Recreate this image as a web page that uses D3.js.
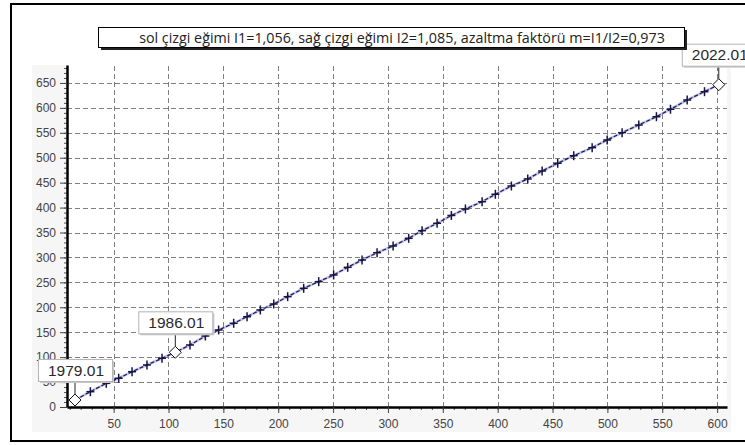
<!DOCTYPE html>
<html>
<head>
<meta charset="utf-8">
<script src="https://cdn.jsdelivr.net/npm/d3@7"></script>
<style>
body { margin: 0; background: #fff; }
svg { display: block; }
</style>
</head>
<body>
<svg id="chart" width="745" height="445"></svg>
<script>
// ---------- DATA ----------

const years = [1979, 1980, 1981, 1982, 1983, 1984, 1985, 1986, 1987, 1988,
  1989, 1990, 1991, 1992, 1993, 1994, 1995, 1996, 1997, 1998,
  1999, 2000, 2001, 2002, 2003, 2004, 2005, 2006, 2007, 2008,
  2009, 2010, 2011, 2012, 2013, 2014, 2015, 2016, 2017, 2018,
  2019, 2020, 2021, 2022];

// cumulative values (x = station sum, y = test station sum)
const cumX = [14.8, 28.8, 43.3, 54.6, 66.8, 80.4, 94.1, 106.2, 119.6, 133.6,
  145.7, 159.4, 171.6, 183.7, 195.9, 208.6, 223.2, 236.9, 250.5, 263.3,
  276.4, 290.1, 304.7, 318.9, 331.1, 344.8, 357.8, 370.6, 385.8, 397.9,
  412.5, 427.4, 440.5, 454.7, 469.3, 486.1, 499.8, 513.4, 528.6, 544.7,
  557.5, 572.7, 588.5, 601.5];

const cumY = [14.0, 30.7, 47.5, 57.6, 70.8, 84.3, 97.7, 109.7, 124.4, 142.4,
  154.5, 167.9, 181.1, 194.6, 206.6, 221.3, 238.1, 251.4, 264.8, 280.2,
  294.9, 309.5, 323.0, 338.4, 353.7, 368.5, 384.2, 397.2, 411.8, 426.7,
  443.3, 457.4, 473.4, 488.9, 504.1, 520.2, 535.6, 550.3, 565.7, 582.3,
  597.2, 615.8, 632.5, 646.5];

const xTicks = [50, 100, 150, 200, 250, 300, 350, 400, 450, 500, 550, 600];
const yTicks = [0, 50, 100, 150, 200, 250, 300, 350, 400, 450, 500, 550, 600, 650];

const markedYears = [1979, 1986, 2022];
const markedLabels = ["1979.01", "1986.01", "2022.01"];

const titleText = "sol çizgi eğimi I1=1,056, sağ çizgi eğimi I2=1,085, azaltma faktörü m=I1/I2=0,973";

const points = years.map((yr, i) => ({ year: yr, x: cumX[i], y: cumY[i] }));

// ---------- LAYOUT ----------

const svg = d3.select("#chart");
const pLeft = 67, pRight = 727, pTop = 65, pBottom = 407;

const x = d3.scaleLinear().domain([7.5, 609]).range([pLeft, pRight]);
const y = d3.scaleLinear().domain([0, 686]).range([pBottom, pTop]);

// outer frame
svg.append("rect")
  .attr("x", 11).attr("y", 4)
  .attr("width", 760).attr("height", 437)
  .attr("fill", "#fff")
  .attr("stroke", "#000")
  .attr("stroke-width", 2);

// faint grey axis area
svg.append("rect")
  .attr("x", 32).attr("y", pTop)
  .attr("width", pRight - 32 + 4).attr("height", 432 - pTop)
  .attr("fill", "#f6f6f6");
svg.append("rect")
  .attr("x", pLeft).attr("y", pTop)
  .attr("width", pRight - pLeft).attr("height", pBottom - pTop)
  .attr("fill", "#fff");

// ---------- GRID ----------

const grid = svg.append("g")
  .attr("stroke", "#808080")
  .attr("stroke-width", 1)
  .attr("stroke-dasharray", "5,3");

grid.selectAll(".vgrid")
  .data(xTicks)
  .join("line")
  .attr("x1", d => Math.round(x(d)) + 0.5)
  .attr("x2", d => Math.round(x(d)) + 0.5)
  .attr("y1", pBottom)
  .attr("y2", pTop);

grid.selectAll(".hgrid")
  .data(yTicks.filter(d => d > 0))
  .join("line")
  .attr("x1", pLeft)
  .attr("x2", pRight)
  .attr("y1", d => Math.round(y(d)) + 0.5)
  .attr("y2", d => Math.round(y(d)) + 0.5);

// ---------- AXES ----------

const axisFont = "'Liberation Sans', Arial, sans-serif";

// minor ticks
svg.append("g")
  .attr("transform", `translate(0,${pBottom})`)
  .call(d3.axisBottom(x).tickValues(d3.range(10, 609, 10)).tickSize(3).tickFormat(""))
  .call(g => g.select(".domain").remove())
  .call(g => g.selectAll("line").attr("stroke", "#555"));

svg.append("g")
  .attr("transform", `translate(${pLeft},0)`)
  .call(d3.axisLeft(y).tickValues(d3.range(10, 686, 10)).tickSize(3).tickFormat(""))
  .call(g => g.select(".domain").remove())
  .call(g => g.selectAll("line").attr("stroke", "#555"));

const xAxis = svg.append("g")
  .attr("transform", `translate(0,${pBottom})`)
  .call(d3.axisBottom(x).tickValues(xTicks).tickSize(6).tickPadding(6).tickSizeOuter(0));

const yAxis = svg.append("g")
  .attr("transform", `translate(${pLeft},0)`)
  .call(d3.axisLeft(y).tickValues(yTicks).tickSize(7).tickPadding(4).tickSizeOuter(0));

[xAxis, yAxis].forEach(g => {
  g.select(".domain").attr("stroke", "#000").attr("stroke-width", 2.5);
  g.selectAll(".tick line").attr("stroke", "#444");
  g.selectAll(".tick text")
    .attr("font-family", axisFont)
    .attr("font-size", 12)
    .attr("fill", "#444");
});

// ---------- SERIES ----------

const line = d3.line().x(d => x(d.x)).y(d => y(d.y));

svg.append("path")
  .datum(points)
  .attr("d", line)
  .attr("fill", "none")
  .attr("stroke", "#7b7bd6")
  .attr("stroke-opacity", 0.45)
  .attr("stroke-width", 2.6);

svg.append("path")
  .datum(points)
  .attr("d", line)
  .attr("fill", "none")
  .attr("stroke", "#1b1b55")
  .attr("stroke-width", 1.2)
  .attr("stroke-dasharray", "4,2");

svg.selectAll(".pt")
  .data(points.filter(d => !markedYears.includes(d.year)))
  .join("g")
  .attr("transform", d => `translate(${x(d.x)},${y(d.y)})`)
  .each(function () {
    const g = d3.select(this);
    g.append("line").attr("x1", -4).attr("x2", 4).attr("y1", 0).attr("y2", 0);
    g.append("line").attr("x1", 0).attr("x2", 0).attr("y1", -4.5).attr("y2", 4.5);
  })
  .attr("stroke", "#15153f")
  .attr("stroke-width", 1.5);

// ---------- LABELED POINTS ----------

const marked = points.filter(d => markedYears.includes(d.year))
  .map(d => ({ ...d, label: markedLabels[markedYears.indexOf(d.year)] }));

const mk = svg.selectAll(".mk")
  .data(marked)
  .join("g")
  .attr("transform", d => `translate(${x(d.x)},${y(d.y)})`);

// leader
mk.append("line")
  .attr("x1", 0).attr("x2", 0)
  .attr("y1", -19).attr("y2", -6)
  .attr("stroke", "#222")
  .attr("stroke-width", 1);

// diamond
mk.append("path")
  .attr("d", "M0,-6L6,0L0,6L-6,0Z")
  .attr("fill", "#fff")
  .attr("stroke", "#111")
  .attr("stroke-width", 1);

// label box
const boxW = 74, boxH = 22;
mk.append("rect")
  .attr("x", -boxW / 2 + 2).attr("y", -19 - boxH + 2)
  .attr("width", boxW).attr("height", boxH)
  .attr("fill", "#c8c8c8");
mk.append("rect")
  .attr("x", -boxW / 2 + 0.5).attr("y", -19 - boxH + 0.5)
  .attr("width", boxW).attr("height", boxH)
  .attr("fill", "#fff")
  .attr("stroke", "#b5b5b5")
  .attr("stroke-width", 1);
mk.append("text")
  .attr("x", 1).attr("y", -19 - boxH / 2 + 5.5)
  .attr("text-anchor", "middle")
  .attr("font-family", axisFont)
  .attr("font-size", 15.5)
  .attr("fill", "#2a2a2a")
  .text(d => d.label);

// ---------- TITLE ----------

svg.append("rect")
  .attr("x", 101).attr("y", 30)
  .attr("width", 586).attr("height", 20)
  .attr("fill", "#222");
svg.append("rect")
  .attr("x", 98.5).attr("y", 27.5)
  .attr("width", 586).attr("height", 20)
  .attr("fill", "#fff")
  .attr("stroke", "#000")
  .attr("stroke-width", 1);
svg.append("text")
  .attr("x", 402).attr("y", 42.5)
  .attr("text-anchor", "middle")
  .attr("font-family", "'Open Sans', 'Noto Sans', sans-serif")
  .attr("font-size", 14.3)
  .attr("fill", "#222")
  .text(titleText);
</script>
</body>
</html>
